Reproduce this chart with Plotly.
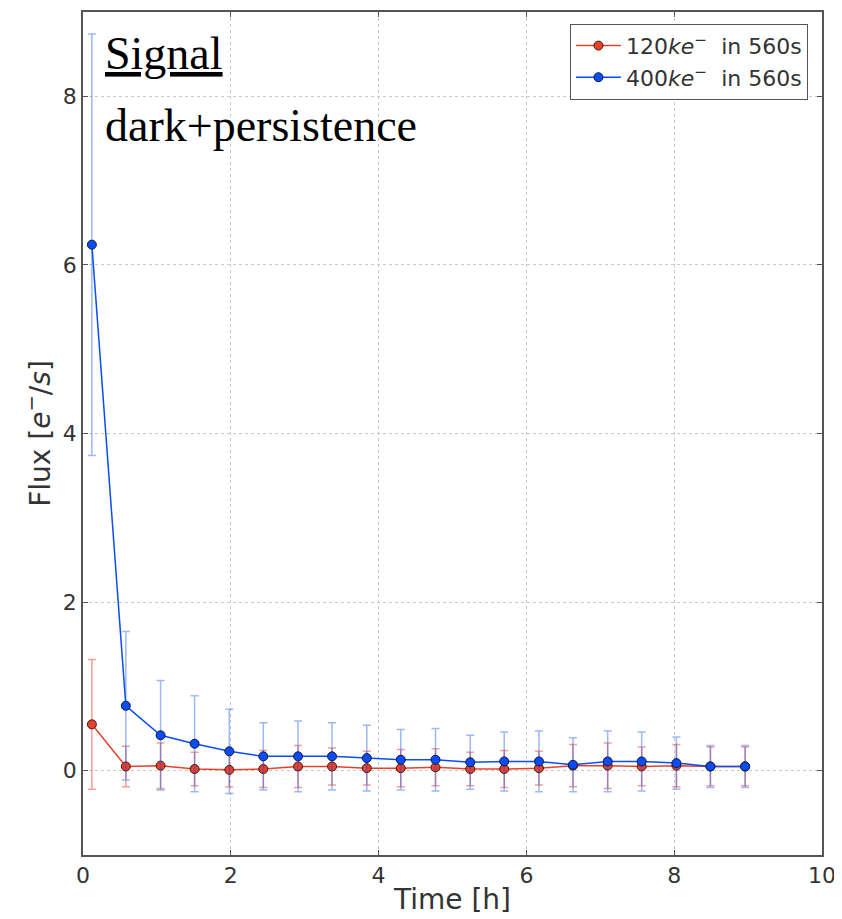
import plotly.graph_objects as go

time_h = [0.12, 0.58, 1.05, 1.51, 1.98, 2.44, 2.91, 3.37, 3.84, 4.30,
          4.77, 5.24, 5.70, 6.17, 6.63, 7.10, 7.56, 8.03, 8.49, 8.96]

flux_120 = [0.55, 0.05, 0.06, 0.02, 0.01, 0.02, 0.05, 0.05, 0.03, 0.03,
            0.04, 0.02, 0.02, 0.03, 0.06, 0.06, 0.05, 0.06, 0.05, 0.05]
err_120 = [0.77, 0.24, 0.27, 0.20, 0.20, 0.22, 0.25, 0.22, 0.20, 0.22,
           0.22, 0.20, 0.22, 0.20, 0.25, 0.27, 0.23, 0.25, 0.23, 0.23]

flux_400 = [6.24, 0.77, 0.42, 0.32, 0.23, 0.17, 0.17, 0.17, 0.15, 0.13,
            0.13, 0.10, 0.11, 0.11, 0.07, 0.11, 0.11, 0.09, 0.05, 0.05]
err_400 = [2.50, 0.88, 0.65, 0.57, 0.50, 0.40, 0.42, 0.40, 0.39, 0.36,
           0.37, 0.32, 0.35, 0.36, 0.32, 0.36, 0.35, 0.31, 0.25, 0.25]

x_ticks = [0, 2, 4, 6, 8, 10]
y_ticks = [0, 2, 4, 6, 8]

red = "#e8402a"
blue = "#0a4cf5"

fig = go.Figure()
fig.add_trace(go.Scatter(
    x=time_h, y=flux_120, mode="lines+markers",
    name="120<i>ke</i><sup>−</sup>  in 560s",
    line=dict(color=red, width=1.5),
    marker=dict(color=red, size=9, line=dict(color="#3a1a10", width=1)),
    error_y=dict(type="data", array=err_120, visible=True,
                 color="rgba(232,64,42,0.5)", thickness=1.5, width=4),
))
fig.add_trace(go.Scatter(
    x=time_h, y=flux_400, mode="lines+markers",
    name="400<i>ke</i><sup>−</sup>  in 560s",
    line=dict(color=blue, width=1.5),
    marker=dict(color=blue, size=9, line=dict(color="#0a1a40", width=1)),
    error_y=dict(type="data", array=err_400, visible=True,
                 color="rgba(10,76,245,0.4)", thickness=1.5, width=4),
))

axis_common = dict(
    showline=True, linecolor="#555555", linewidth=1.5, mirror="ticks",
    ticks="inside", ticklen=5, tickcolor="#555555",
    showgrid=True, gridcolor="#c8c8c8", griddash="dot", gridwidth=1,
    zeroline=False,
    tickfont=dict(family="DejaVu Sans", size=22, color="#333333"),
)

fig.update_xaxes(range=[0, 10], tickvals=x_ticks, title_text="Time [h]",
                 title_standoff=2,
                 title_font=dict(family="DejaVu Sans", size=28, color="#333333"),
                 **axis_common)
fig.update_yaxes(range=[-1, 9], tickvals=y_ticks,
                 title_text="Flux [<i>e</i><sup>−</sup>/<i>s</i>]",
                 title_standoff=4,
                 title_font=dict(family="DejaVu Sans", size=28, color="#333333"),
                 **axis_common)

fig.add_annotation(x=0.027, y=0.983, xref="paper", yref="paper",
                   xanchor="left", yanchor="top", showarrow=False,
                   text="<u>Signal</u>",
                   font=dict(family="Liberation Serif", size=46, color="black"))
fig.add_annotation(x=0.027, y=0.898, xref="paper", yref="paper",
                   xanchor="left", yanchor="top", showarrow=False,
                   text="dark+persistence",
                   font=dict(family="Liberation Serif", size=46, color="black"))

fig.update_layout(
    width=834, height=911,
    margin=dict(l=75, r=20, t=2, b=64),
    paper_bgcolor="white", plot_bgcolor="white",
    showlegend=True,
    legend=dict(x=0.981, y=0.986, xanchor="right", yanchor="top",
                bordercolor="#555555", borderwidth=1, bgcolor="white",
                itemwidth=45,
                font=dict(family="DejaVu Sans", size=22, color="#333333")),
)

fig.write_html("out.html")
